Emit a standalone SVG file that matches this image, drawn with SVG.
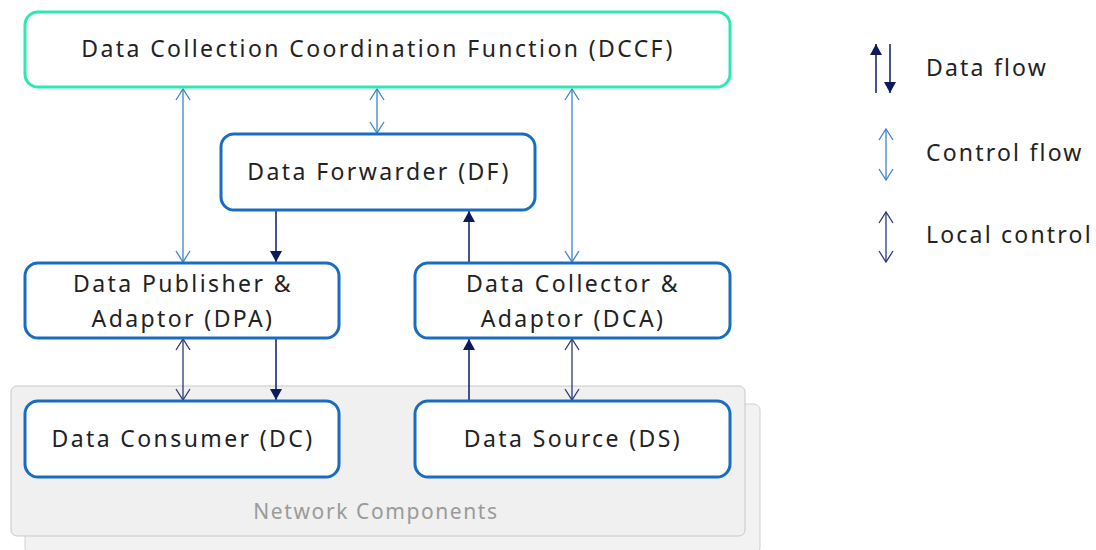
<svg xmlns="http://www.w3.org/2000/svg" width="1096" height="550" viewBox="0 0 1096 550">
<style>
.node{fill:#fff;stroke:#1a6cc0;stroke-width:3}
.t{font-family:"Noto Sans",sans-serif;font-size:23px;fill:#222;text-anchor:middle;letter-spacing:2.4px}
.lt{font-family:"Noto Sans",sans-serif;font-size:23px;fill:#222;letter-spacing:2.2px}
.ctl{stroke:#3b84cc;stroke-width:1.3;fill:none}
.dat{stroke:#0d1b5e;stroke-width:1.5;fill:none}
.loc{stroke:#2b3875;stroke-width:1.3;fill:none}
</style>
<defs>
<marker id="oc" markerUnits="userSpaceOnUse" markerWidth="16" markerHeight="18" viewBox="-13 -9 16 18" refX="0" refY="0" orient="auto-start-reverse"><path d="M-11,-7 L0,0 L-11,7" fill="none" stroke="#3b84cc" stroke-width="1.3"/></marker>
<marker id="ol" markerUnits="userSpaceOnUse" markerWidth="16" markerHeight="18" viewBox="-13 -9 16 18" refX="0" refY="0" orient="auto-start-reverse"><path d="M-11,-7 L0,0 L-11,7" fill="none" stroke="#2b3875" stroke-width="1.3"/></marker>
<marker id="fd" markerUnits="userSpaceOnUse" markerWidth="14" markerHeight="14" viewBox="-12 -7 13 14" refX="0" refY="0" orient="auto"><path d="M-11,-6 L0,0 L-11,6 Z" fill="#0d1b5e"/></marker>
</defs>
<g id="network-components">
<rect x="25" y="404" width="735" height="150" rx="6" fill="#f2f2f2" stroke="#d0d0d0" stroke-width="1"/>
<rect x="11" y="386" width="734" height="150" rx="6" fill="#f0f0f0" stroke="#c8c8c8" stroke-width="1"/>
<text x="376" y="519" style="font-family:'Noto Sans',sans-serif;font-size:21px;fill:#9a9a9a;text-anchor:middle;letter-spacing:1.6px">Network Components</text>
</g>
<g id="connectors">
<line class="ctl" x1="183" y1="89" x2="183" y2="262" marker-start="url(#oc)" marker-end="url(#oc)"/>
<line class="ctl" x1="377" y1="89" x2="377" y2="133" marker-start="url(#oc)" marker-end="url(#oc)"/>
<line class="ctl" x1="572" y1="89" x2="572" y2="262" marker-start="url(#oc)" marker-end="url(#oc)"/>
<line class="dat" x1="276" y1="211" x2="276" y2="262" marker-end="url(#fd)"/>
<line class="dat" x1="469" y1="262" x2="469" y2="211" marker-end="url(#fd)"/>
<line class="loc" x1="183" y1="339" x2="183" y2="400" marker-start="url(#ol)" marker-end="url(#ol)"/>
<line class="dat" x1="276" y1="339" x2="276" y2="400" marker-end="url(#fd)"/>
<line class="dat" x1="469" y1="400" x2="469" y2="339" marker-end="url(#fd)"/>
<line class="loc" x1="572" y1="339" x2="572" y2="400" marker-start="url(#ol)" marker-end="url(#ol)"/>
</g>
<g id="dccf">
<rect x="25" y="12" width="705" height="75" rx="13" fill="#fff" stroke="#2ee8b2" stroke-width="3"/>
<text class="t" x="378" y="57">Data Collection Coordination Function (DCCF)</text>
</g>
<g id="df">
<rect class="node" x="221" y="134" width="314" height="76" rx="13"/>
<text class="t" x="379" y="180">Data Forwarder (DF)</text>
</g>
<g id="dpa">
<rect class="node" x="25" y="263" width="314" height="75" rx="13"/>
<text class="t" x="183" y="292">Data Publisher &amp;</text>
<text class="t" x="183" y="327">Adaptor (DPA)</text>
</g>
<g id="dca">
<rect class="node" x="415" y="263" width="315" height="75" rx="13"/>
<text class="t" x="573" y="292">Data Collector &amp;</text>
<text class="t" x="573" y="327">Adaptor (DCA)</text>
</g>
<g id="dc">
<rect class="node" x="25" y="401" width="314" height="76" rx="13"/>
<text class="t" x="183" y="447">Data Consumer (DC)</text>
</g>
<g id="ds">
<rect class="node" x="415" y="401" width="315" height="76" rx="13"/>
<text class="t" x="573" y="447">Data Source (DS)</text>
</g>
<g id="legend">
<line class="dat" x1="876" y1="93" x2="876" y2="44" marker-end="url(#fd)"/>
<line class="dat" x1="890" y1="44" x2="890" y2="93" marker-end="url(#fd)"/>
<text class="lt" x="926" y="76">Data flow</text>
<line class="ctl" x1="886" y1="129" x2="886" y2="180" marker-start="url(#oc)" marker-end="url(#oc)"/>
<text class="lt" x="926" y="161">Control flow</text>
<line class="loc" x1="886" y1="212" x2="886" y2="262" marker-start="url(#ol)" marker-end="url(#ol)"/>
<text class="lt" x="926" y="243">Local control</text>
</g>
</svg>
